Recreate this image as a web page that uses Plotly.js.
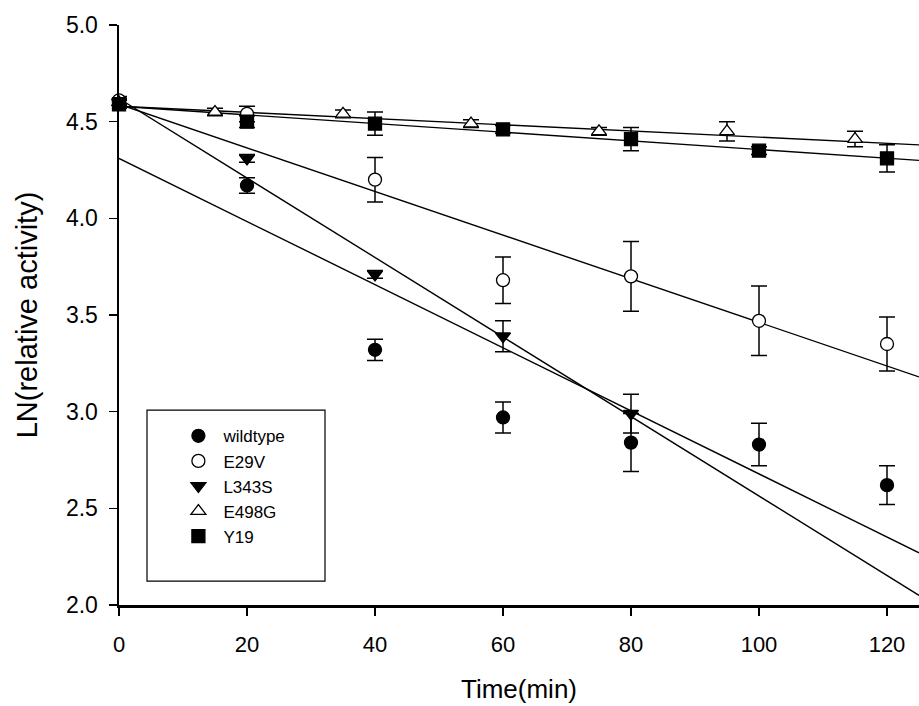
<!DOCTYPE html>
<html>
<head>
<meta charset="utf-8">
<script src="https://cdn.plot.ly/plotly-3.0.1.min.js"></script>
<style>
  html, body { margin: 0; padding: 0; background: #fff; }
  #chart { width: 919px; height: 706px; }
</style>
</head>
<body>
<div id="chart"></div>
<script>
// ---- data ----
const seriesNames = ["wildtype", "E29V", "L343S", "E498G", "Y19"];

const wildtypeTime = [0, 20, 40, 60, 80, 100, 120];
const wildtypeValues = [4.60, 4.17, 3.32, 2.97, 2.84, 2.83, 2.62];
const wildtypeErr = [0.02, 0.04, 0.055, 0.08, 0.15, 0.11, 0.10];

const e29vTime = [0, 20, 40, 60, 80, 100, 120];
const e29vValues = [4.61, 4.54, 4.20, 3.68, 3.70, 3.47, 3.35];
const e29vErr = [0.02, 0.04, 0.115, 0.12, 0.18, 0.18, 0.14];

const l343sTime = [0, 20, 40, 60, 80];
const l343sValues = [4.60, 4.31, 3.71, 3.39, 2.99];
const l343sErr = [0.02, 0.02, 0.02, 0.08, 0.10];

const e498gTime = [0, 15, 35, 55, 75, 95, 115];
const e498gValues = [4.60, 4.55, 4.54, 4.49, 4.45, 4.45, 4.41];
const e498gErr = [0.02, 0.02, 0.02, 0.02, 0.02, 0.05, 0.04];

const y19Time = [0, 20, 40, 60, 80, 100, 120];
const y19Values = [4.59, 4.50, 4.49, 4.46, 4.41, 4.35, 4.31];
const y19Err = [0.02, 0.03, 0.06, 0.02, 0.06, 0.02, 0.07];

// regression lines (end points read at t = 0 and t = 125)
const fitTime = [0, 125];
const wildtypeFit = [4.31, 2.27];
const e29vFit = [4.59, 3.18];
const l343sFit = [4.62, 2.05];
const e498gFit = [4.58, 4.38];
const y19Fit = [4.58, 4.30];

const xTickVals = [0, 20, 40, 60, 80, 100, 120];
const yTickVals = [2.0, 2.5, 3.0, 3.5, 4.0, 4.5, 5.0];
const yTickText = ["2.0", "2.5", "3.0", "3.5", "4.0", "4.5", "5.0"];

// ---- traces ----
function fitTrace(y) {
  return { x: fitTime, y: y, mode: "lines", type: "scatter",
           line: { color: "#000", width: 1.4 }, showlegend: false, hoverinfo: "skip" };
}
function ptTrace(name, x, y, err, symbol, fill) {
  return {
    name: name, x: x, y: y, type: "scatter", mode: "markers",
    marker: { symbol: symbol, size: 13, color: fill, line: { color: "#000", width: 1.3 } },
    error_y: { type: "data", array: err, visible: true, color: "#000", thickness: 1.5, width: 8 },
    cliponaxis: false
  };
}

const traces = [
  fitTrace(wildtypeFit), fitTrace(e29vFit), fitTrace(l343sFit), fitTrace(e498gFit), fitTrace(y19Fit),
  ptTrace(seriesNames[0], wildtypeTime, wildtypeValues, wildtypeErr, "circle", "#000"),
  ptTrace(seriesNames[1], e29vTime, e29vValues, e29vErr, "circle", "#fff"),
  ptTrace(seriesNames[2], l343sTime, l343sValues, l343sErr, "triangle-down", "#000"),
  ptTrace(seriesNames[3], e498gTime, e498gValues, e498gErr, "triangle-up", "#fff"),
  ptTrace(seriesNames[4], y19Time, y19Values, y19Err, "square", "#000")
];

const font = "Liberation Sans, Arial, sans-serif";

const layout = {
  width: 919, height: 706,
  margin: { l: 119, r: 0, t: 25, b: 101 },
  paper_bgcolor: "#fff", plot_bgcolor: "#fff",
  font: { family: font, color: "#000", size: 22 },
  showlegend: true,
  xaxis: {
    range: [0, 125], tickvals: xTickVals, ticks: "outside", ticklen: 8, tickwidth: 1.3,
    tickcolor: "#000", showline: true, linecolor: "#000", linewidth: 2.5,
    showgrid: false, zeroline: false, tickfont: { size: 22, family: font },
    ticklabelstandoff: 10,
    title: { text: "Time(min)", font: { size: 26, family: font }, standoff: 24 }
  },
  yaxis: {
    range: [2.0, 5.0], tickvals: yTickVals, ticktext: yTickText, ticks: "outside", ticklen: 8,
    tickwidth: 1.3, tickcolor: "#000", showline: true, linecolor: "#000", linewidth: 2.5,
    showgrid: false, zeroline: false, tickfont: { size: 23, family: font },
    ticklabelstandoff: 6,
    title: { text: "LN(relative activity)", font: { size: 29, family: font }, standoff: 20 }
  },
  legend: {
    x: 0.068, y: 0.322, xanchor: "left", yanchor: "top",
    bgcolor: "rgba(0,0,0,0)", borderwidth: 0,
    font: { size: 17, family: font }, itemwidth: 40, tracegroupgap: 0
  },
  shapes: [{
    type: "rect", xref: "paper", yref: "paper",
    x0: 0.035, x1: 0.2575, y0: 0.041, y1: 0.336,
    line: { color: "#000", width: 1.2 }, fillcolor: "rgba(0,0,0,0)"
  }]
};

Plotly.newPlot("chart", traces, layout, { displayModeBar: false, staticPlot: true });
</script>
</body>
</html>
